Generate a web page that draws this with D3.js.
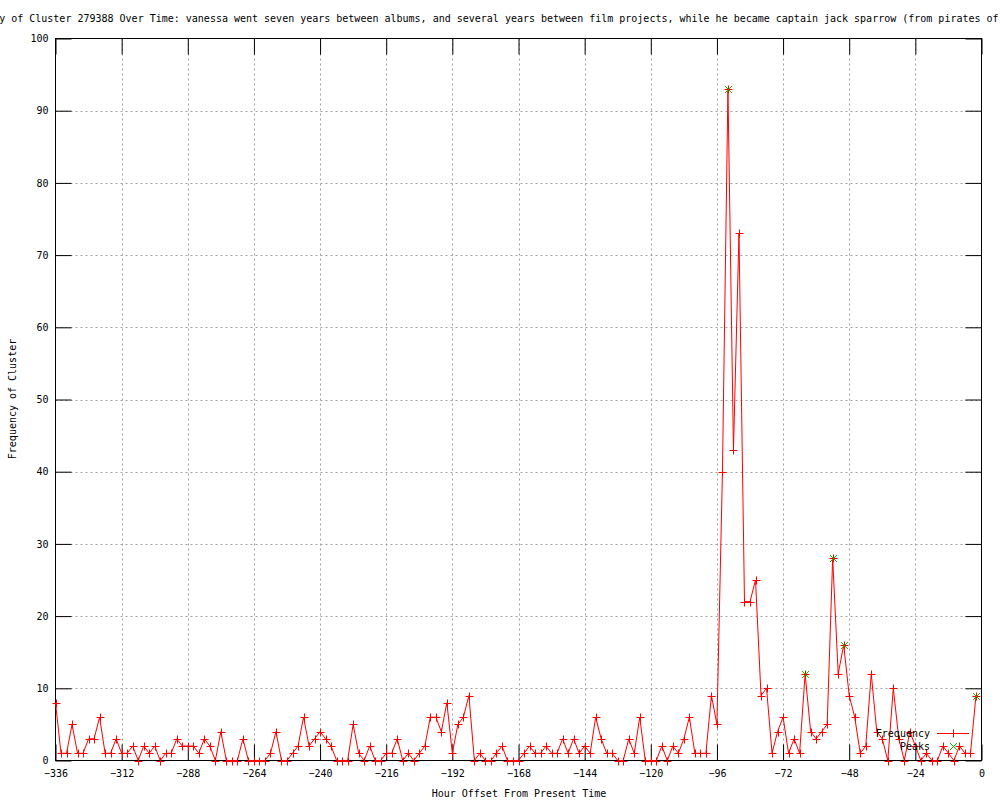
<!DOCTYPE html>
<html>
<head>
<meta charset="utf-8">
<script src="https://cdn.jsdelivr.net/npm/d3@7"></script>
<style>
  html, body { margin: 0; padding: 0; background: #fff; }
  svg { display: block; }
  text { font-family: "DejaVu Sans Mono", "Liberation Mono", monospace; font-size: 10px; fill: #000; }
</style>
</head>
<body>
<svg id="chart" width="1000" height="800"></svg>
<script>
// ---- data ----
const hours = [
  -336,-334,-332,-330,-328,-326,-324,-322,-320,-318,-316,-314,-312,-310,-308,-306,-304,-302,-300,-298,
  -296,-294,-292,-290,-288,-286,-284,-282,-280,-278,-276,-274,-272,-270,-268,-266,-264,-262,-260,-258,
  -256,-254,-252,-250,-248,-246,-244,-242,-240,-238,-236,-234,-232,-230,-228,-226,-224,-222,-220,-218,
  -216,-214,-212,-210,-208,-206,-204,-202,-200,-198,-196,-194,-192,-190,-188,-186,-184,-182,-180,-178,
  -176,-174,-172,-170,-168,-166,-164,-162,-160,-158,-156,-154,-152,-150,-148,-146,-144,-142,-140,-138,
  -136,-134,-132,-130,-128,-126,-124,-122,-120,-118,-116,-114,-112,-110,-108,-106,-104,-102,-100,-98,
  -96,-94,-92,-90,-88,-86,-84,-82,-80,-78,-76,-74,-72,-70,-68,-66,-64,-62,-60,-58,
  -56,-54,-52,-50,-48,-46,-44,-42,-40,-38,-36,-34,-32,-30,-28,-26,-24,-22,-20,-18,
  -16,-14,-12,-10,-8,-6,-4,-2
];
const frequency = [
  8,1,1,5,1,1,3,3,6,1,1,3,1,1,2,0,2,1,2,0,
  1,1,3,2,2,2,1,3,2,0,4,0,0,0,3,0,0,0,0,1,
  4,0,0,1,2,6,2,3,4,3,2,0,0,0,5,1,0,2,0,0,
  1,1,3,0,1,0,1,2,6,6,4,8,1,5,6,9,0,1,0,0,
  1,2,0,0,0,1,2,1,1,2,1,1,3,1,3,1,2,1,6,3,
  1,1,0,0,3,1,6,0,0,0,2,0,2,1,3,6,1,1,1,9,
  5,40,93,43,73,22,22,25,9,10,1,4,6,1,3,1,12,4,3,4,
  5,28,12,16,9,6,1,2,12,4,3,0,10,3,0,4,2,0,1,0,
  0,2,1,0,2,1,1,9
];
const peakHours = [-92, -64, -54, -50, -2];
const peakValues = [93, 12, 28, 16, 9];
const xTicks = [-336,-312,-288,-264,-240,-216,-192,-168,-144,-120,-96,-72,-48,-24,0];
const yTicks = [0,10,20,30,40,50,60,70,80,90,100];
const titleText = "Frequency of Cluster 279388 Over Time: vanessa went seven years between albums, and several years between film projects, while he became captain jack sparrow (from pirates of the caribbean)";
const xLabel = "Hour Offset From Present Time";
const yLabel = "Frequency of Cluster";
const legendNames = ["Frequency", "Peaks"];

// ---- drawing ----
const svg = d3.select("#chart");
const L = 55.5, R = 981.5, T = 38.5, B = 760.5;
const x = d3.scaleLinear().domain([-336, 0]).range([L, R]);
const y = d3.scaleLinear().domain([0, 100]).range([B, T]);
const red = "#ff0000", green = "#00c000";

// grid
const grid = svg.append("g");
grid.selectAll("line.gx").data(xTicks.filter(d => d !== -336 && d !== 0)).enter().append("line")
  .attr("x1", d => Math.round(x(d)) + 0.5).attr("x2", d => Math.round(x(d)) + 0.5)
  .attr("y1", T).attr("y2", B)
  .attr("stroke", "#a0a0a0").attr("stroke-dasharray", "2,3").attr("stroke-width", 1);
grid.selectAll("line.gy").data(yTicks.filter(d => d !== 0 && d !== 100)).enter().append("line")
  .attr("x1", L).attr("x2", R)
  .attr("y1", d => Math.round(y(d)) + 0.5).attr("y2", d => Math.round(y(d)) + 0.5)
  .attr("stroke", "#a0a0a0").attr("stroke-dasharray", "2,3").attr("stroke-width", 1);

// axes with inward ticks (mirrored)
const tickLen = 16;
const axB = d3.axisBottom(x).tickValues(xTicks).tickSize(-tickLen).tickPadding(9).tickFormat(d3.format("d"));
const axT = d3.axisTop(x).tickValues(xTicks).tickSize(-tickLen).tickFormat("");
const axL = d3.axisLeft(y).tickValues(yTicks).tickSize(-tickLen).tickPadding(7).tickFormat(d3.format("d"));
const axR = d3.axisRight(y).tickValues(yTicks).tickSize(-tickLen).tickFormat("");

function styleAxis(g) {
  g.selectAll("path").attr("stroke", "#000").attr("stroke-width", 1);
  g.selectAll("line").attr("stroke", "#000").attr("stroke-width", 1);
  g.selectAll("text").attr("font-family", "DejaVu Sans Mono").attr("font-size", 10).attr("fill", "#000");
}
svg.append("g").attr("transform", `translate(0,${B})`).call(axB).call(styleAxis);
svg.append("g").attr("transform", `translate(0,${T})`).call(axT).call(styleAxis);
svg.append("g").attr("transform", `translate(${L},0)`).call(axL).call(styleAxis);
svg.append("g").attr("transform", `translate(${R},0)`).call(axR).call(styleAxis);
svg.selectAll(".domain").attr("d", null);
svg.append("rect").attr("x", L).attr("y", T).attr("width", R - L).attr("height", B - T)
  .attr("fill", "none").attr("stroke", "#000").attr("stroke-width", 1);

// frequency line
const pts = hours.map((h, i) => [h, frequency[i]]);
const line = d3.line().x(d => x(d[0])).y(d => y(d[1]));
svg.append("path").datum(pts).attr("d", line)
  .attr("fill", "none").attr("stroke", red).attr("stroke-width", 1);

const plusSize = 4;
function plus(g, cx, cy, color) {
  g.append("path")
    .attr("d", `M${cx - plusSize},${cy}H${cx + plusSize}M${cx},${cy - plusSize}V${cy + plusSize}`)
    .style("stroke", color).style("stroke-width", "1px").style("fill", "none");
}
function cross(g, cx, cy, color) {
  const s = 3.5;
  g.append("path")
    .attr("d", `M${cx - s},${cy - s}L${cx + s},${cy + s}M${cx - s},${cy + s}L${cx + s},${cy - s}`)
    .style("stroke", color).style("stroke-width", "1px").style("fill", "none");
}
const marks = svg.append("g");
pts.forEach(d => plus(marks, Math.round(x(d[0])) + 0.5, Math.round(y(d[1])) + 0.5, red));
const pk = svg.append("g");
peakHours.forEach((h, i) => cross(pk, Math.round(x(h)) + 0.5, Math.round(y(peakValues[i])) + 0.5, green));

// legend
const lg = svg.append("g");
lg.append("text").attr("x", 930).attr("y", 737).attr("text-anchor", "end").text(legendNames[0]);
lg.append("path").attr("d", "M937,733.5H969").style("stroke", red).style("stroke-width", "1px").style("fill", "none");
plus(lg, 953.5, 733.5, red);
lg.append("text").attr("x", 930).attr("y", 750).attr("text-anchor", "end").text(legendNames[1]);
cross(lg, 953.5, 746.5, green);

// titles
svg.append("text").attr("x", -49).attr("y", 22).text(titleText);
svg.append("text").attr("x", 519).attr("y", 797).attr("text-anchor", "middle").text(xLabel);
svg.append("text").attr("transform", "translate(16,399) rotate(-90)").attr("text-anchor", "middle").text(yLabel);
</script>
</body>
</html>
